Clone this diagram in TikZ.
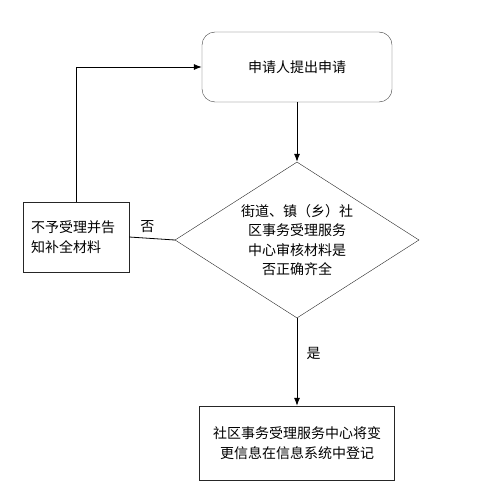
\documentclass[tikz,border=0pt]{standalone}
\usepackage{fontspec}
\usepackage{tikz}
\usetikzlibrary{arrows.meta,positioning,shapes.geometric}
\newfontfamily\cjk{Noto Sans CJK SC}
\tikzset{s/.style={draw=black!75,rounded corners=13pt,minimum width=190pt,minimum height=70pt},
 b/.style={draw=black!85,minimum height=70pt},
 d/.style={draw=black!85,diamond,aspect=1.56,inner sep=0pt,minimum width=244pt,minimum height=156pt,align=center},
 flow/.style={-{Latex[length=8pt,width=6pt]},line width=.8pt},wire/.style={line width=.8pt}}

\begin{document}
\begin{tikzpicture}[x=1pt,y=-1pt,font=\cjk\fontsize{14}{19.5}\selectfont]
\useasboundingbox (0,0) rectangle (478,497);
\node[s](ap) at(297,67){申请人提出申请};
\node[d](ck) at(297,240){街道、镇（乡）社\\区事务受理服务\\中心审核材料是\\否正确齐全};
\node[b,align=left,text width=90pt,inner sep=8pt](rj) at(76,237){不予受理并告\\知补全材料};
\node[b,align=center,minimum width=195pt,minimum height=74pt](rc) at(297,443){社区事务受理服务中心将变\\更信息在信息系统中登记};
\draw[flow](ap)--(ck);
\draw[wire](ck.west)--node[above,pos=.6,yshift=2pt]{否}(rj.east);
\draw[flow](rj.north)|-(ap.west);
\draw[flow](ck.south)--node[right,pos=.4,xshift=6pt]{是}(rc.north);
\end{tikzpicture}
\end{document}
